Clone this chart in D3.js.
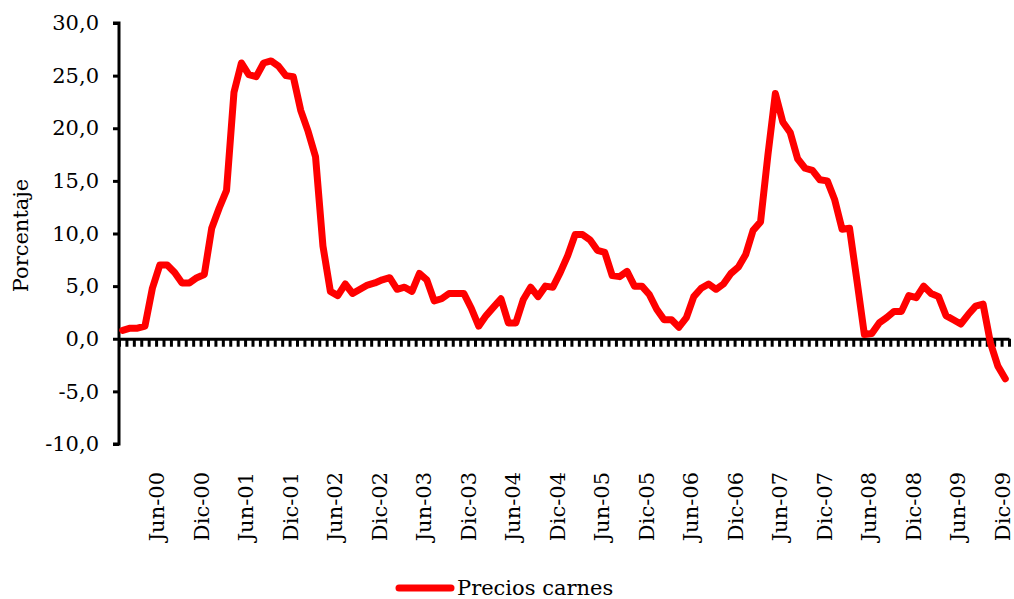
<!DOCTYPE html>
<meta charset="utf-8">
<head>
<script src="https://d3js.org/d3.v7.min.js"></script>
<style>
  body { margin: 0; background: #fff; }
  text { font-family: "DejaVu Serif", serif; fill: #000; }
</style>
</head>
<body>
<svg id="chart" width="1014" height="599"></svg>
<script>

// months (spanish) and years of the series
var months = ["Ene","Feb","Mar","Abr","May","Jun","Jul","Ago","Sep","Oct","Nov","Dic"];
var years = ["00","01","02","03","04","05","06","07","08","09"];

// monthly variation of meat prices (%)
var carnes = [
  0.8, 1.0, 1.0, 1.2, 4.8, 7.0, 7.0, 6.3, 5.3, 5.3, 5.8, 6.1,
  10.5, 12.4, 14.1, 23.4, 26.2, 25.1, 24.9, 26.2, 26.4, 25.9, 25.0, 24.9,
  21.7, 19.7, 17.3, 8.8, 4.5, 4.1, 5.2, 4.3, 4.7, 5.1, 5.3, 5.6,
  5.8, 4.7, 4.9, 4.5, 6.2, 5.6, 3.6, 3.8, 4.3, 4.3, 4.3, 2.9,
  1.2, 2.2, 3.0, 3.8, 1.5, 1.5, 3.7, 4.9, 4.0, 5.0, 4.9, 6.3,
  7.9, 9.9, 9.9, 9.4, 8.4, 8.2, 6.0, 5.9, 6.4, 5.0, 5.0, 4.2,
  2.8, 1.8, 1.8, 1.1, 2.0, 4.0, 4.8, 5.2, 4.7, 5.2, 6.2, 6.8,
  8.0, 10.3, 11.1, 17.5, 23.3, 20.6, 19.6, 17.1, 16.2, 16.0, 15.1, 15.0,
  13.2, 10.4, 10.5, 5.5, 0.4, 0.5, 1.5, 2.0, 2.6, 2.6, 4.1, 3.9,
  5.0, 4.3, 4.0, 2.2, 1.8, 1.4, 2.3, 3.1, 3.3, -0.4, -2.6, -3.8
];

var xTickLabels = ["Jun-00","Dic-00","Jun-01","Dic-01","Jun-02","Dic-02","Jun-03","Dic-03","Jun-04","Dic-04",
                   "Jun-05","Dic-05","Jun-06","Dic-06","Jun-07","Dic-07","Jun-08","Dic-08","Jun-09","Dic-09"];
var yTicks = [-10, -5, 0, 5, 10, 15, 20, 25, 30];

var categories = [];
years.forEach(function(yy) {
  months.forEach(function(m) { categories.push(m + "-" + yy); });
});

function drawChart() {
  var svg = d3.select("#chart");

  var left = 119, right = 1009, top = 23, bottom = 444;

  var x = d3.scaleBand()
    .domain(categories)
    .range([left, right])
    .padding(0);

  var xEdge = d3.scaleLinear()
    .domain([0, categories.length])
    .range([left, right]);

  var y = d3.scaleLinear()
    .domain([-10, 30])
    .range([bottom, top]);

  // y axis
  var yAxis = svg.append("g")
    .attr("transform", "translate(" + left + ",0)")
    .call(d3.axisLeft(y)
      .tickValues(yTicks)
      .tickSize(6)
      .tickPadding(14)
      .tickFormat(function(d) { return d.toFixed(1).replace(".", ","); }));
  yAxis.select(".domain").attr("stroke", "#000").attr("stroke-width", 3)
    .attr("d", "M-6," + y(-10) + "H0V" + y(30) + "H-6");
  yAxis.selectAll(".tick line").attr("stroke", "#000").attr("stroke-width", 3);
  yAxis.selectAll(".tick text").style("font-size", "21px")
    .style("font-family", "'DejaVu Serif', serif");

  // x axis at zero with a tick between every month
  var xAxis = svg.append("g")
    .attr("transform", "translate(0," + y(0) + ")")
    .call(d3.axisBottom(xEdge)
      .tickValues(d3.range(categories.length + 1))
      .tickSize(8)
      .tickSizeOuter(0)
      .tickFormat(""));
  xAxis.select(".domain").attr("stroke", "#000").attr("stroke-width", 3);
  xAxis.selectAll(".tick line").attr("stroke", "#000").attr("stroke-width", 3);

  // month labels below the plot
  var lab = svg.append("g")
    .attr("transform", "translate(0," + (bottom + 28) + ")")
    .call(d3.axisBottom(x)
      .tickValues(xTickLabels)
      .tickSize(0));
  lab.select(".domain").remove();
  lab.selectAll(".tick text")
    .style("font-size", "21px")
    .style("font-family", "'DejaVu Serif', serif")
    .attr("text-anchor", "end")
    .attr("transform", "rotate(-90)")
    .attr("x", 0)
    .attr("y", 0)
    .attr("dy", "0.22em");

  // y title
  svg.append("text")
    .attr("transform", "translate(28," + ((top + bottom) / 2 + 2) + ") rotate(-90)")
    .attr("text-anchor", "middle")
    .style("font-size", "21px")
    .text("Porcentaje");

  // the series
  var line = d3.line()
    .x(function(d, i) { return x(categories[i]) + x.bandwidth() / 2; })
    .y(function(d) { return y(d); });

  svg.append("path")
    .datum(carnes)
    .attr("fill", "none")
    .attr("stroke", "#ff0000")
    .attr("stroke-width", 7)
    .attr("stroke-linejoin", "round")
    .attr("stroke-linecap", "round")
    .attr("d", line);

  // legend
  var lg = svg.append("g").attr("transform", "translate(397,588)");
  lg.append("line")
    .attr("x1", 2).attr("x2", 54)
    .attr("stroke", "#ff0000")
    .attr("stroke-width", 7)
    .attr("stroke-linecap", "round");
  lg.append("text")
    .attr("x", 60)
    .attr("dy", "0.35em")
    .style("font-size", "21px")
    .text("Precios carnes");
}

drawChart();

</script>
</body>
